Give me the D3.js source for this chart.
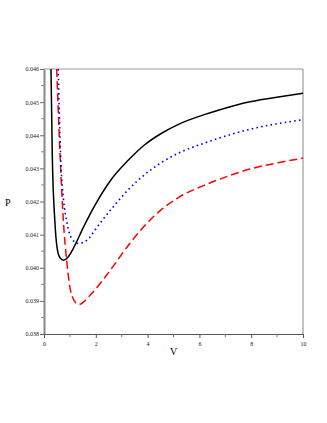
<!DOCTYPE html>
<html><head><meta charset="utf-8">
<script src="https://cdn.jsdelivr.net/npm/d3@7"></script>
<style>body{margin:0;background:#fff}</style>
</head><body><svg id="c" width="327" height="423"></svg>
<script>
const xTicks = [0,2,4,6,8,10];
const yTicks = [0.038,0.039,0.040,0.041,0.042,0.043,0.044,0.045,0.046];
const blackV = [0.27,0.32,0.42,0.51,0.62,0.75,0.94,1.13,1.52,1.97,2.61,3.26,3.90,4.54,5.19,6.22,6.67,7.95,9.24,10];
const blackP = [0.0460,0.04340,0.04139,0.04058,0.04030,0.04023,0.04033,0.04058,0.04122,0.04189,0.04268,0.04325,0.04372,0.04406,0.04433,0.04463,0.04474,0.04501,0.04518,0.04527];
const blueV = [0.55,0.64,0.75,0.88,1.07,1.33,1.78,1.97,2.61,3.26,3.90,4.54,5.19,6.22,6.67,7.95,9.24,10];
const blueP = [0.0460,0.04340,0.04209,0.04139,0.04088,0.04073,0.04093,0.04114,0.04178,0.04236,0.04282,0.04318,0.04346,0.04377,0.04389,0.04418,0.04438,0.04447];
const redV = [0.49,0.62,0.75,0.88,1.07,1.33,1.78,2.42,3.26,3.90,4.54,5.19,6.22,6.67,7.95,9.24,10];
const redP = [0.0460,0.04340,0.04139,0.04018,0.03917,0.03889,0.03917,0.03978,0.04068,0.04128,0.04176,0.04212,0.04250,0.04264,0.04298,0.04320,0.04331];

const svg = d3.select("#c");
const L=44,R=303,T=69,B=334;
const x = d3.scaleLinear().domain([0,10]).range([L,R]);
const y = d3.scaleLinear().domain([0.038,0.046]).range([B,T]);

svg.append("line").attr("x1",L).attr("x2",R).attr("y1",T).attr("y2",T).attr("stroke","#999").attr("stroke-width",1.2);
svg.append("line").attr("x1",R).attr("x2",R).attr("y1",T).attr("y2",B).attr("stroke","#999").attr("stroke-width",1.2);

svg.append("defs").append("clipPath").attr("id","cp").append("rect")
  .attr("x",L).attr("y",T).attr("width",R-L).attr("height",B-T);

const g = svg.append("g").attr("clip-path","url(#cp)");
const mk = (V,P)=>V.map((v,i)=>[v,P[i]]);
const line = d3.line().x(d=>x(d[0])).y(d=>y(d[1])).curve(d3.curveMonotoneX);
g.append("path").datum(mk(redV,redP)).attr("d",line).attr("fill","none").attr("stroke","#ff0000").attr("stroke-width",1.5).attr("stroke-dasharray","8,4");
g.append("path").datum(mk(blueV,blueP)).attr("d",line).attr("fill","none").attr("stroke","#0000ff").attr("stroke-width",1.6).attr("stroke-dasharray","1.6,3.2");
g.append("path").datum(mk(blackV,blackP)).attr("d",line).attr("fill","none").attr("stroke","#000").attr("stroke-width",1.5);

const ya = d3.axisLeft(y).tickValues(yTicks).tickFormat(d3.format(".3f")).tickSize(4).tickSizeOuter(0);
const yg = svg.append("g").attr("transform",`translate(${L},0)`).call(ya);
yg.select(".domain").attr("stroke","#888").attr("stroke-width",2);
yg.selectAll(".tick line").attr("stroke","#666");
yg.selectAll("text").attr("font-family","Liberation Serif").attr("font-size",6).attr("fill","#222").attr("x",-5);
const yMinor = d3.range(0.0385,0.046,0.001);
svg.append("g").selectAll("line").data(yMinor).join("line")
  .attr("x1",L-3).attr("x2",L).attr("y1",d=>y(d)).attr("y2",d=>y(d)).attr("stroke","#888");

const xa = d3.axisBottom(x).tickValues(xTicks).tickFormat(d3.format("d")).tickSize(4).tickSizeOuter(0);
const xg = svg.append("g").attr("transform",`translate(0,${B})`).call(xa);
xg.select(".domain").attr("stroke","#555").attr("stroke-width",1.2);
xg.selectAll(".tick line").attr("stroke","#555");
xg.selectAll("text").attr("font-family","Liberation Serif").attr("font-size",6).attr("fill","#222").attr("y",8);
const xMinor = [1,3,5,7,9];
svg.append("g").selectAll("line").data(xMinor).join("line")
  .attr("x1",d=>x(d)).attr("x2",d=>x(d)).attr("y1",B).attr("y2",B+3).attr("stroke","#777");

svg.append("text").attr("x",5).attr("y",206).text("P").attr("font-family","Liberation Serif").attr("font-size",10);
svg.append("text").attr("x",170).attr("y",355).text("V").attr("font-family","Liberation Serif").attr("font-size",10);
</script></body></html>
